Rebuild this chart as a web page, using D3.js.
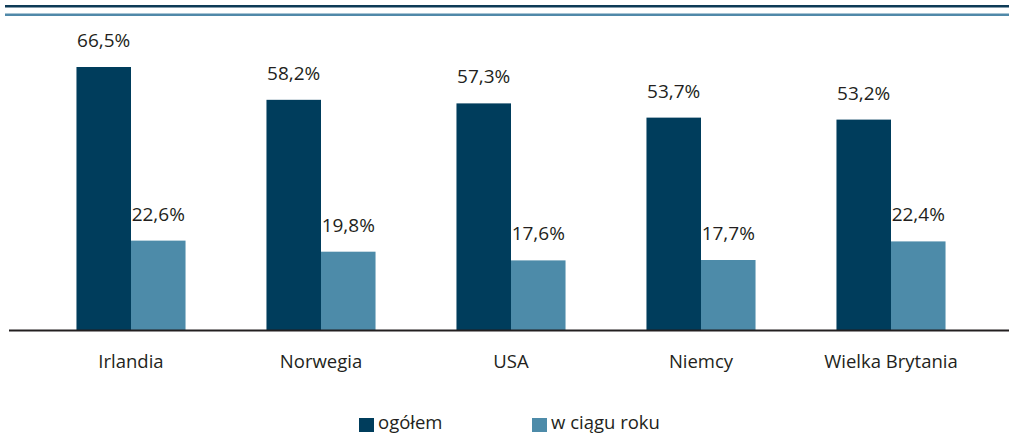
<!DOCTYPE html>
<html>
<head>
<meta charset="utf-8">
<script src="https://cdn.jsdelivr.net/npm/d3@7"></script>
<style>
  body { margin: 0; background: #fff; }
  svg { display: block; font-family: "Open Sans", sans-serif; }
</style>
</head>
<body>
<svg id="chart" width="1009" height="434"></svg>
<script>
const countries = ["Irlandia", "Norwegia", "USA", "Niemcy", "Wielka Brytania"];
const ogolem = [66.5, 58.2, 57.3, 53.7, 53.2];
const wCiaguRoku = [22.6, 19.8, 17.6, 17.7, 22.4];
const seriesNames = ["ogółem", "w ciągu roku"];
const colors = ["#003d5c", "#4d8ba9"];

const svg = d3.select("#chart");
const baseY = 330;

// top decorative rules
svg.append("rect").attr("x", 5).attr("y", 5).attr("width", 1004).attr("height", 2.5).attr("fill", "#0e3b57");
svg.append("rect").attr("x", 5).attr("y", 13.5).attr("width", 1004).attr("height", 2.5).attr("fill", "#5089a9");

const x = d3.scaleBand()
    .domain(countries)
    .range([36, 986])
    .paddingInner(0.426)
    .paddingOuter(0.213);

const xSub = d3.scaleBand()
    .domain(seriesNames)
    .range([0, x.bandwidth()]);

const y = d3.scaleLinear()
    .domain([0, 66.5])
    .range([baseY, 67]);

const rows = countries.map((c, i) => ({ country: c, values: [ogolem[i], wCiaguRoku[i]] }));

const fmt = v => d3.format(".1f")(v).replace(".", ",") + "%";

const groups = svg.selectAll("g.group")
    .data(rows)
    .enter()
    .append("g")
    .attr("class", "group")
    .attr("transform", d => `translate(${x(d.country)},0)`);

groups.selectAll("rect")
    .data(d => d.values.map((v, k) => ({ key: seriesNames[k], v, k })))
    .enter()
    .append("rect")
    .attr("x", d => xSub(d.key))
    .attr("width", xSub.bandwidth())
    .attr("y", d => y(d.v))
    .attr("height", d => baseY - y(d.v))
    .attr("fill", d => colors[d.k]);

groups.selectAll("text.val")
    .data(d => d.values.map((v, k) => ({ key: seriesNames[k], v, k })))
    .enter()
    .append("text")
    .attr("class", "val")
    .attr("x", d => xSub(d.key) + xSub.bandwidth() / 2)
    .attr("y", d => y(d.v) - 20)
    .attr("text-anchor", "middle")
    .attr("font-size", 19)
    .attr("fill", "#231f20")
    .text(d => fmt(d.v));

// baseline axis
svg.append("line")
    .attr("x1", 9).attr("x2", 1009)
    .attr("y1", baseY + 0.5).attr("y2", baseY + 0.5)
    .attr("stroke", "#231f20")
    .attr("stroke-width", 2);

svg.selectAll("text.cat")
    .data(countries)
    .enter()
    .append("text")
    .attr("class", "cat")
    .attr("x", d => x(d) + x.bandwidth() / 2)
    .attr("y", 368)
    .attr("text-anchor", "middle")
    .attr("font-size", 18.5)
    .attr("fill", "#231f20")
    .text(d => d);

// legend
const legendX = [359, 532];
const legend = svg.selectAll("g.legend")
    .data(seriesNames)
    .enter()
    .append("g")
    .attr("class", "legend")
    .attr("transform", (d, i) => `translate(${legendX[i]},418)`);

legend.append("rect")
    .attr("width", 15)
    .attr("height", 14)
    .attr("fill", (d, i) => colors[i]);

legend.append("text")
    .attr("x", 19)
    .attr("y", 11)
    .attr("font-size", 18.5)
    .attr("fill", "#231f20")
    .text(d => d);
</script>
</body>
</html>
